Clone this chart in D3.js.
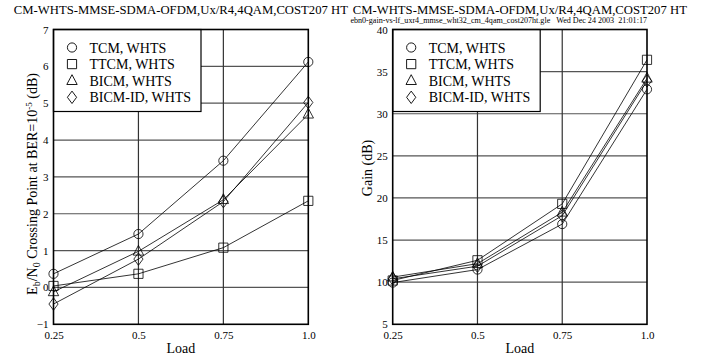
<!DOCTYPE html>
<html>
<head>
<meta charset="utf-8">
<script src="https://cdn.jsdelivr.net/npm/d3@7"></script>
<style>
  body { margin: 0; background: #fff; }
  svg { display: block; font-family: "Liberation Serif", "Times New Roman", serif; }
</style>
</head>
<body>
<script>
// Data
const loads = [0.25, 0.5, 0.75, 1.0];
const loadLabels = ["0.25", "0.5", "0.75", "1.0"];
const seriesNames = ["TCM, WHTS", "TTCM, WHTS", "BICM, WHTS", "BICM-ID, WHTS"];
const markers = ["circle", "square", "triangle", "diamond"];

// Left: Eb/N0 crossing point (dB)
const crossTCM = [0.37, 1.45, 3.44, 6.12];
const crossTTCM = [0.04, 0.37, 1.08, 2.35];
const crossBICM = [-0.12, 0.98, 2.38, 4.7];
const crossBICMID = [-0.45, 0.77, 2.33, 5.02];
const crossTicks = [-1, 0, 1, 2, 3, 4, 5, 6, 7];

// Right: gain (dB)
const gainTCM = [9.95, 11.5, 16.9, 32.9];
const gainTTCM = [10.2, 12.6, 19.3, 36.4];
const gainBICM = [10.6, 12.2, 18.3, 34.2];
const gainBICMID = [10.4, 11.9, 17.9, 33.9];
const gainTicks = [5, 10, 15, 20, 25, 30, 35, 40];

const title = "CM-WHTS-MMSE-SDMA-OFDM,Ux/R4,4QAM,COST207 HT";
const subtitle = "ebn0-gain-vs-lf_uxr4_mmse_wht32_cm_4qam_cost207ht.gle   Wed Dec 24 2003  21:01:17";

const w = 714;
const h = 360;
const plotTop = 29.5;
const plotBottom = 324.3;

const svg = d3.select("body").append("svg").attr("width", w).attr("height", h);

// Marker path centred at 0,0
function markerPath(type) {
	if (type === "circle") return d3.symbol().type(d3.symbolCircle).size(Math.PI * 4.6 * 4.6)();
	if (type === "square") return "M-4.6,-4.6H4.6V4.6H-4.6Z";
	if (type === "triangle") return "M0,-6L5.2,3.8H-5.2Z";
	return "M0,-6.2L4.6,0L0,6.2L-4.6,0Z";
}

const panels = [
	{
		x0: 53.5, x1: 308.3, domain: [-1, 7], ticks: crossTicks,
		series: [crossTCM, crossTTCM, crossBICM, crossBICMID],
		ylabel: "cross", ylabelX: 37, ylabelY: 184
	},
	{
		x0: 392.7, x1: 647, domain: [5, 40], ticks: gainTicks,
		series: [gainTCM, gainTTCM, gainBICM, gainBICMID],
		ylabel: "Gain (dB)", ylabelX: 372, ylabelY: 168
	}
];

panels.forEach((p, pi) => {
	const x = d3.scaleLinear().domain([0.25, 1]).range([p.x0, p.x1]);
	const y = d3.scaleLinear().domain(p.domain).range([plotBottom, plotTop]);
	const g = svg.append("g");

	// Title
	g.append("text")
		.attr("x", (p.x0 + p.x1) / 2)
		.attr("y", 14)
		.attr("text-anchor", "middle")
		.style("font-size", "12.7px")
		.text(title);

	// Grid
	g.selectAll(".hgrid")
		.data(p.ticks.slice(1, -1))
		.enter()
		.append("line")
		.attr("x1", p.x0).attr("x2", p.x1)
		.attr("y1", (d) => y(d)).attr("y2", (d) => y(d))
		.attr("stroke", "#555")
		.attr("stroke-width", 1.2);
	g.selectAll(".vgrid")
		.data(loads.slice(1, -1))
		.enter()
		.append("line")
		.attr("x1", (d) => x(d)).attr("x2", (d) => x(d))
		.attr("y1", plotTop).attr("y2", plotBottom)
		.attr("stroke", "#333")
		.attr("stroke-width", 1.2);

	// Axes (labels only)
	const xAxis = d3.axisBottom(x)
		.tickValues(loads)
		.tickFormat((d, i) => loadLabels[i])
		.tickSize(0)
		.tickPadding(7);
	g.append("g")
		.attr("transform", `translate(0, ${plotBottom})`)
		.call(xAxis)
		.call((s) => s.select(".domain").remove())
		.selectAll("text")
		.style("font-family", "Liberation Serif")
		.style("font-size", "11px")
		.attr("fill", "#000");

	const yAxis = d3.axisLeft(y).tickValues(p.ticks).tickSize(0).tickPadding(5);
	g.append("g")
		.attr("transform", `translate(${p.x0}, 0)`)
		.call(yAxis)
		.call((s) => s.select(".domain").remove())
		.selectAll("text")
		.style("font-family", "Liberation Serif")
		.style("font-size", "11px")
		.attr("fill", "#000");

	// Series lines and markers
	p.series.forEach((vals, si) => {
		const pts = loads.map((l, i) => [x(l), y(vals[i])]);
		g.append("path")
			.attr("d", d3.line()(pts))
			.attr("fill", "none")
			.attr("stroke", "#000")
			.attr("stroke-width", 0.8);
		g.selectAll(null)
			.data(pts)
			.enter()
			.append("path")
			.attr("d", markerPath(markers[si]))
			.attr("transform", (d) => `translate(${d[0]},${d[1]})`)
			.attr("fill", "none")
			.attr("stroke", "#000")
			.attr("stroke-width", 0.8);
	});

	// Legend
	const lg = g.append("g").attr("transform", `translate(${p.x0}, ${plotTop})`);
	lg.append("rect")
		.attr("width", 147.5)
		.attr("height", 82)
		.attr("fill", "#fff")
		.attr("stroke", "#000")
		.attr("stroke-width", 1.2);
	seriesNames.forEach((name, si) => {
		const by = 23 + si * 16.6;
		lg.append("path")
			.attr("d", markerPath(markers[si]))
			.attr("transform", `translate(18.5, ${by - 5})`)
			.attr("fill", "none")
			.attr("stroke", "#000")
			.attr("stroke-width", 0.9);
		lg.append("text")
			.attr("x", 36)
			.attr("y", by)
			.style("font-size", "14px")
			.text(name);
	});

	// Frame
	g.append("rect")
		.attr("x", p.x0).attr("y", plotTop)
		.attr("width", p.x1 - p.x0).attr("height", plotBottom - plotTop)
		.attr("fill", "none")
		.attr("stroke", "#000")
		.attr("stroke-width", 1.6);

	// X label
	g.append("text")
		.attr("x", (p.x0 + p.x1) / 2)
		.attr("y", 352.5)
		.attr("text-anchor", "middle")
		.style("font-size", "14px")
		.text("Load");

	// Y label
	const yl = g.append("text")
		.attr("transform", `translate(${p.ylabelX}, ${p.ylabelY}) rotate(-90)`)
		.attr("text-anchor", "middle")
		.style("font-size", "14px");
	if (p.ylabel === "cross") {
		yl.append("tspan").text("E");
		yl.append("tspan").attr("baseline-shift", "-25%").style("font-size", "10px").text("b");
		yl.append("tspan").text("/N");
		yl.append("tspan").attr("baseline-shift", "-25%").style("font-size", "10px").text("0");
		yl.append("tspan").text(" Crossing Point at BER=10");
		yl.append("tspan").attr("baseline-shift", "super").style("font-size", "9px").text("-5");
		yl.append("tspan").text(" (dB)");
	} else {
		yl.text(p.ylabel);
	}

	if (pi === 1) {
		g.append("text")
			.attr("x", p.x1)
			.attr("y", 23)
			.attr("text-anchor", "end")
			.style("font-size", "8.1px")
			.style("white-space", "pre")
			.text(subtitle);
	}
});
</script>
</body>
</html>
